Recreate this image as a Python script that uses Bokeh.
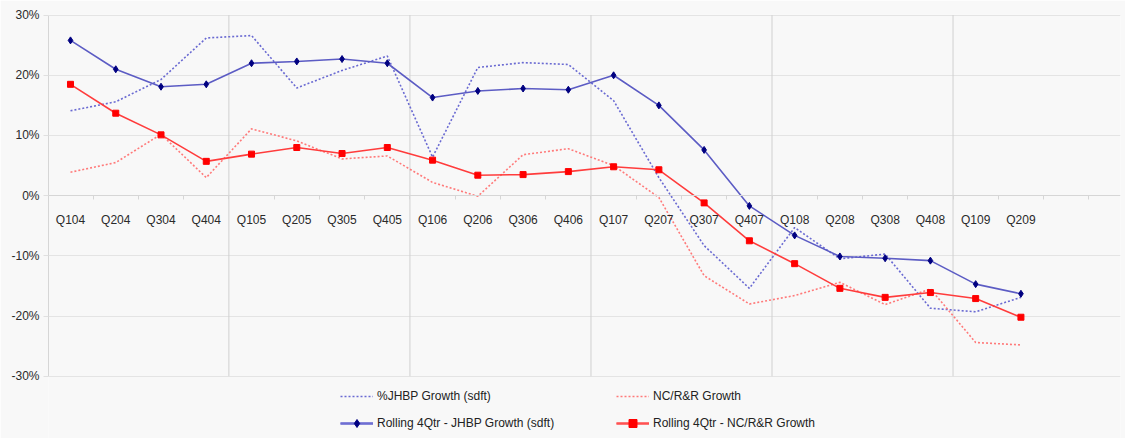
from bokeh.plotting import figure
from bokeh.models import Range1d, FixedTicker, PrintfTickFormatter, Legend, LegendItem
from bokeh.embed import file_html
from bokeh.resources import INLINE

# Quarterly categories and growth series (percent)
quarters = ["Q104", "Q204", "Q304", "Q404", "Q105", "Q205", "Q305", "Q405",
            "Q106", "Q206", "Q306", "Q406", "Q107", "Q207", "Q307", "Q407",
            "Q108", "Q208", "Q308", "Q408", "Q109", "Q209"]
jhbp_growth = [14.1, 15.6, 19.3, 26.2, 26.6, 17.9, 20.8, 23.2,
               6.4, 21.3, 22.1, 21.8, 15.8, 3.0, -8.3, -15.4,
               -5.3, -10.5, -9.7, -18.7, -19.3, -16.9]
nc_growth = [3.9, 5.5, 10.2, 3.0, 11.1, 9.1, 6.1, 6.6,
             2.2, -0.1, 6.8, 7.8, 5.0, -0.3, -13.3, -18.0,
             -16.6, -14.4, -18.1, -15.5, -24.4, -24.8]
jhbp_rolling = [25.8, 21.0, 18.1, 18.5, 22.0, 22.3, 22.7, 22.0,
                16.3, 17.4, 17.8, 17.6, 20.0, 15.0, 7.6, -1.7,
                -6.6, -10.1, -10.4, -10.8, -14.7, -16.3]
nc_rolling = [18.5, 13.7, 10.1, 5.7, 6.9, 8.0, 7.0, 8.0,
              5.9, 3.4, 3.5, 4.0, 4.8, 4.3, -1.2, -7.5,
              -11.3, -15.4, -16.9, -16.1, -17.1, -20.2]
y_ticks = [-30, -20, -10, 0, 10, 20, 30]

x = list(range(len(quarters)))
BG = "#f8f8f8"
FONT = "Liberation Sans"
y_lo, y_hi = y_ticks[0], y_ticks[-1]
NAN = float("nan")

# the frame reaches the bottom of the page so the legend can sit under the value area
p = figure(width=1125, height=438, output_backend="svg", toolbar_location=None,
           x_range=Range1d(-0.486, 23.2), y_range=Range1d(-40.35, 30.1),
           min_border_left=48, min_border_right=5, min_border_top=14, min_border_bottom=0,
           background_fill_color=BG, border_fill_color=BG, outline_line_color=None)

# horizontal grid every 10%
p.ygrid.ticker = FixedTicker(ticks=[t for t in y_ticks if t != 0])
p.ygrid.grid_line_color = "#e4e4e4"
p.xgrid.visible = False

# vertical separators after every fourth quarter, spanning the value range only
year_breaks = [i - 0.5 for i in range(4, len(quarters), 4)]
p.segment(x0=year_breaks, y0=[y_lo] * len(year_breaks),
          x1=year_breaks, y1=[y_hi] * len(year_breaks),
          line_color="#d0d0d0", line_width=1)

# y axis
p.yaxis.bounds = (y_lo, y_hi)
p.yaxis.ticker = FixedTicker(ticks=y_ticks)
p.yaxis.formatter = PrintfTickFormatter(format="%d%%")
p.yaxis.axis_line_color = "#d6d6d6"
p.yaxis.major_tick_line_color = "#e0e0e0"
p.yaxis.major_tick_out = 5
p.yaxis.major_tick_in = 0
p.yaxis.minor_tick_line_color = None
p.yaxis.major_label_standoff = 4
p.yaxis.major_label_text_font = FONT
p.yaxis.major_label_text_font_size = "12px"
p.yaxis.major_label_text_color = "#2a2a2a"

# category axis crossing at 0%
p.xaxis.fixed_location = 0
p.xaxis.ticker = FixedTicker(ticks=x, minor_ticks=[i + 0.5 for i in range(-1, 23)])
p.xaxis.major_label_overrides = {i: q for i, q in enumerate(quarters)}
p.xaxis.axis_line_color = "#d6d6d6"
p.xaxis.major_tick_line_color = None
p.xaxis.major_tick_out = 0
p.xaxis.major_tick_in = 0
p.xaxis.minor_tick_line_color = "#d6d6d6"
p.xaxis.minor_tick_out = 4
p.xaxis.minor_tick_in = 0
p.xaxis.major_label_standoff = 13
p.xaxis.major_label_text_font = FONT
p.xaxis.major_label_text_font_size = "12px"
p.xaxis.major_label_text_color = "#2a2a2a"

# series
r_jg = p.line(x, jhbp_growth, line_color="#6a6ad2", line_width=1.6, line_dash="2 2")
r_ng = p.line(x, nc_growth, line_color="#ff7a7a", line_width=1.6, line_dash="2 2")
r_jr = p.line(x, jhbp_rolling, line_color="#5c5cc4", line_width=1.6)
m_jr = p.scatter(x, jhbp_rolling, marker="diamond", size=7, fill_color="#000080",
                 line_color="#000080")
r_nr = p.line(x, nc_rolling, line_color="#ff3c3c", line_width=1.6)
m_nr = p.scatter(x, nc_rolling, marker="square", size=6, fill_color="#ff0000",
                 line_color="#ff0000")

# broader, softer strokes used only for the legend swatches of the rolling series
k_jr = p.line(x=[0], y=[NAN], line_color="#7474d6", line_width=3, line_alpha=0.8)
k_nr = p.line(x=[0], y=[NAN], line_color="#ff5a5a", line_width=3, line_alpha=0.75)

legend = Legend(items=[
    LegendItem(label="%JHBP Growth (sdft)", renderers=[r_jg]),
    LegendItem(label="Rolling 4Qtr - JHBP Growth (sdft)", renderers=[r_jr, k_jr, m_jr]),
    LegendItem(label="NC/R&R Growth", renderers=[r_ng]),
    LegendItem(label="Rolling 4Qtr - NC/R&R Growth", renderers=[r_nr, k_nr, m_nr]),
], ncols=2, orientation="vertical", location=(292, 5),
    background_fill_alpha=0, border_line_color=None, padding=0, margin=0,
    glyph_width=33, glyph_height=20, label_height=20, label_standoff=4,
    label_width=232, spacing=7,
    label_text_font=FONT, label_text_font_size="12px", label_text_color="#222222")
p.add_layout(legend, "center")

open("out.html", "w").write(file_html(p, INLINE))
